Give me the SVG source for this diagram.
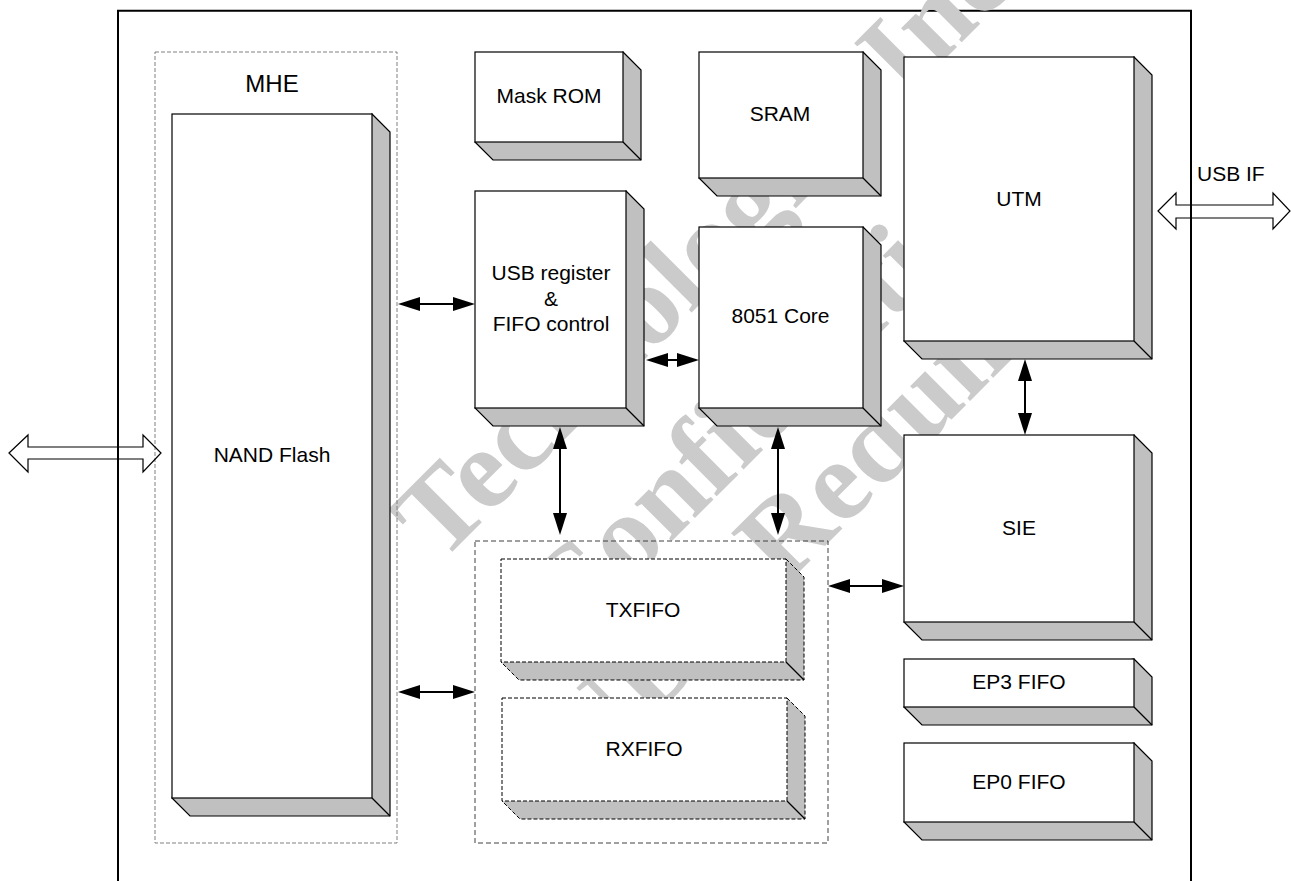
<svg xmlns="http://www.w3.org/2000/svg" width="1291" height="881" viewBox="0 0 1291 881">
<defs>
<style>
.face{fill:#fff;stroke:#000;stroke-width:1.2}
.side{fill:#c0c0c0;stroke:#000;stroke-width:1.2;stroke-linejoin:miter}
.edge{fill:none;stroke:#000;stroke-width:1.2}
.dface{fill:#fff;stroke:#000;stroke-width:1;stroke-dasharray:4 2}
.dside{fill:#c0c0c0;stroke:#000;stroke-width:1;stroke-dasharray:4 2}
.lbl{font-family:"Liberation Sans",Arial,sans-serif;font-size:21px;fill:#000;text-anchor:middle}
.wm{font-family:"Liberation Serif","Times New Roman",serif;font-size:115px;font-weight:bold;fill:#cbcbcb}
.conn{stroke:#000;stroke-width:2;fill:none;marker-start:url(#ah);marker-end:url(#ah)}
.hollow{fill:none;stroke:#000;stroke-width:1.2;stroke-linejoin:miter}
</style>
<marker id="ah" viewBox="0 0 22 14" refX="18" refY="7" markerWidth="22" markerHeight="14" markerUnits="userSpaceOnUse" orient="auto-start-reverse">
<path d="M0,0 L22,7 L0,14 Z" fill="#000"/>
</marker>
</defs>
<rect width="1291" height="881" fill="#fff"/>
<path id="frame" d="M118,890 V10.7 H1191 V890" fill="none" stroke="#000" stroke-width="2"/>
<g id="watermark">
<text class="wm" x="440" y="564" transform="rotate(-45 440 564)">Technologies Inc</text>
<text class="wm" x="570" y="643" transform="rotate(-45 570 643)">Confidential</text>
<text class="wm" x="591" y="780" transform="rotate(-45 591 780)">NDA Required</text>
</g>
<g id="mhe">
<rect x="155" y="52" width="242" height="791" fill="none" stroke="#808080" stroke-width="1" stroke-dasharray="4 2"/>
<text class="lbl" x="272" y="92" style="font-size:24px">MHE</text>
</g>
<g id="fifo-group">
<rect x="475" y="541" width="353" height="302" fill="none" stroke="#404040" stroke-width="1" stroke-dasharray="5 3"/>
</g>
<g id="nand">
<path class="side" d="M372,114 L390,132 L390,816 L190,816 L172,798 Z"/>
<rect class="face" x="172" y="114" width="200" height="684"/>
<path class="edge" d="M372,798 L390,816"/>
<text class="lbl" x="272" y="462">NAND Flash</text>
</g>
<g id="maskrom">
<path class="side" d="M623,52 L641,70 L641,160 L493,160 L475,142 Z"/>
<rect class="face" x="475" y="52" width="148" height="90"/>
<path class="edge" d="M623,142 L641,160"/>
<text class="lbl" x="549" y="103">Mask ROM</text>
</g>
<g id="sram">
<path class="side" d="M863,52 L881,70 L881,196 L717,196 L699,178 Z"/>
<rect class="face" x="699" y="52" width="164" height="126"/>
<path class="edge" d="M863,178 L881,196"/>
<text class="lbl" x="780" y="121">SRAM</text>
</g>
<g id="usbreg">
<path class="side" d="M626,191 L644,209 L644,426 L493,426 L475,408 Z"/>
<rect class="face" x="475" y="191" width="151" height="217"/>
<path class="edge" d="M626,408 L644,426"/>
<text class="lbl" x="551" y="280">USB register</text>
<text class="lbl" x="551" y="305.5">&amp;</text>
<text class="lbl" x="551" y="331">FIFO control</text>
</g>
<g id="core8051">
<path class="side" d="M863,227 L881,245 L881,426 L717,426 L699,408 Z"/>
<rect class="face" x="699" y="227" width="164" height="181"/>
<path class="edge" d="M863,408 L881,426"/>
<text class="lbl" x="780.5" y="323">8051 Core</text>
</g>
<g id="utm">
<path class="side" d="M1134,57 L1152,75 L1152,359 L922,359 L904,341 Z"/>
<rect class="face" x="904" y="57" width="230" height="284"/>
<path class="edge" d="M1134,341 L1152,359"/>
<text class="lbl" x="1019" y="206">UTM</text>
</g>
<g id="sie">
<path class="side" d="M1134,435 L1152,453 L1152,640 L922,640 L904,622 Z"/>
<rect class="face" x="904" y="435" width="230" height="187"/>
<path class="edge" d="M1134,622 L1152,640"/>
<text class="lbl" x="1019" y="535">SIE</text>
</g>
<g id="ep3">
<path class="side" d="M1134,659 L1152,677 L1152,725 L922,725 L904,707 Z"/>
<rect class="face" x="904" y="659" width="230" height="48"/>
<path class="edge" d="M1134,707 L1152,725"/>
<text class="lbl" x="1019" y="689">EP3 FIFO</text>
</g>
<g id="ep0">
<path class="side" d="M1134,743 L1152,761 L1152,840 L922,840 L904,822 Z"/>
<rect class="face" x="904" y="743" width="230" height="79"/>
<path class="edge" d="M1134,822 L1152,840"/>
<text class="lbl" x="1019" y="789">EP0 FIFO</text>
</g>
<g id="txfifo">
<path class="dside" d="M786,559 L804,577 L804,680 L519,680 L501,662 Z"/>
<rect class="dface" x="501" y="559" width="285" height="103"/>
<path class="edge" d="M786,662 L804,680" stroke-width="1"/>
<text class="lbl" x="643" y="617">TXFIFO</text>
</g>
<g id="rxfifo">
<path class="dside" d="M787,698 L805,716 L805,819 L520,819 L502,801 Z"/>
<rect class="dface" x="502" y="698" width="285" height="103"/>
<path class="edge" d="M787,801 L805,819" stroke-width="1"/>
<text class="lbl" x="644" y="756">RXFIFO</text>
</g>
<g id="connectors">
<line class="conn" x1="402" y1="304" x2="471" y2="304"/>
<line class="conn" x1="402" y1="692" x2="471" y2="692"/>
<line class="conn" x1="650" y1="360" x2="695" y2="360"/>
<line class="conn" x1="560" y1="431" x2="560" y2="531"/>
<line class="conn" x1="778" y1="431" x2="778" y2="531"/>
<line class="conn" x1="1025" y1="363" x2="1025" y2="431"/>
<line class="conn" x1="832" y1="586" x2="900" y2="586"/>
<path class="hollow" d="M9,453 L28,435 L28,447 L143,447 L143,435 L161,453 L143,472 L143,459 L28,459 L28,472 Z"/>
<path class="hollow" d="M1158,211 L1176,193 L1176,205 L1273,205 L1273,193 L1290,211 L1273,229 L1273,218 L1176,218 L1176,229 Z"/>
</g>
<text id="usbif" x="1197" y="181" style="font-family:'Liberation Sans',Arial,sans-serif;font-size:21px;fill:#000">USB IF</text>
</svg>
